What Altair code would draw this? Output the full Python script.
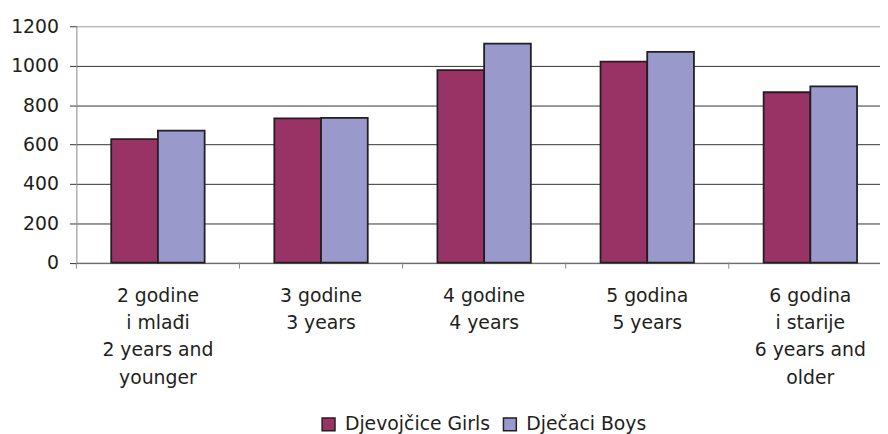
import altair as alt
import pandas as pd

categories = [
    "2 godine|i mlađi|2 years and|younger",
    "3 godine|3 years",
    "4 godine|4 years",
    "5 godina|5 years",
    "6 godina|i starije|6 years and|older",
]
series = ["Djevojčice Girls", "Dječaci Boys"]
girls = [627, 732, 977, 1021, 865]
boys = [670, 735, 1112, 1070, 895]
y_ticks = [0, 200, 400, 600, 800, 1000, 1200]
colors = ["#993366", "#9999CC"]

rows = []
for c, g, b in zip(categories, girls, boys):
    rows.append({"cat": c, "series": series[0], "value": g})
    rows.append({"cat": c, "series": series[1], "value": b})
df = pd.DataFrame(rows)
cat_df = pd.DataFrame({"cat": categories})

FONT = "DejaVu Sans"
TXT = "#231f20"
H = 238.5

xscale = alt.Scale(range=[0, 823], paddingInner=0, paddingOuter=0)
xaxis = alt.Axis(
    title=None,
    ticks=False,
    labelExpr="split(datum.label, '|')",
    labelAngle=0,
    labelFont=FONT,
    labelFontSize=19,
    labelLineHeight=27.5,
    labelPadding=24,
    labelBaseline="top",
    labelColor=TXT,
    labelLimit=300,
    labelOverlap=False,
    domainColor="#888888",
    domainWidth=1,
    grid=False,
)

bars = alt.Chart(df).mark_bar(stroke="#231f20", strokeWidth=1.8).encode(
    x=alt.X("cat:N", sort=categories, scale=xscale, axis=xaxis),
    xOffset=alt.XOffset(
        "series:N", sort=series, scale=alt.Scale(paddingOuter=0.746, paddingInner=0)
    ),
    y=alt.Y(
        "value:Q",
        scale=alt.Scale(domain=[0, 1200], nice=False),
        axis=alt.Axis(
            values=y_ticks,
            format="d",
            title=None,
            tickSize=7,
            tickColor="#333333",
            gridColor=alt.condition(
                "datum.value == 1200", alt.value("#999999"), alt.value("#333333")
            ),
            gridWidth=1,
            domainColor="#888888",
            labelPadding=11,
            labelFont=FONT,
            labelFontSize=19,
            labelColor=TXT,
        ),
    ),
    color=alt.Color(
        "series:N",
        sort=series,
        scale=alt.Scale(domain=series, range=colors),
        legend=alt.Legend(
            title=None,
            orient="none",
            direction="horizontal",
            legendX=245,
            legendY=392,
            symbolType="square",
            symbolSize=169,
            symbolStrokeColor="#231f20",
            symbolStrokeWidth=1.5,
            symbolOpacity=1,
            labelFont=FONT,
            labelFontSize=19,
            labelColor=TXT,
            labelOffset=7,
            columnPadding=10,
            labelLimit=300,
        ),
    ),
)

rules = alt.Chart(cat_df).mark_rule(color="#888888", strokeWidth=1).encode(
    x=alt.X("cat:N", sort=categories, scale=xscale, bandPosition=0, axis=xaxis),
    y=alt.value(H),
    y2=alt.value(H + 6),
)

chart = (
    alt.layer(bars, rules)
    .properties(
        width=811,
        height=H,
        autosize=alt.AutoSizeParams(type="none"),
        padding={"left": 69, "top": 16.5, "right": 0, "bottom": 171},
    )
    .configure_view(stroke=None)
)

chart.save("out.html", embed_options={"renderer": "svg", "actions": False})
